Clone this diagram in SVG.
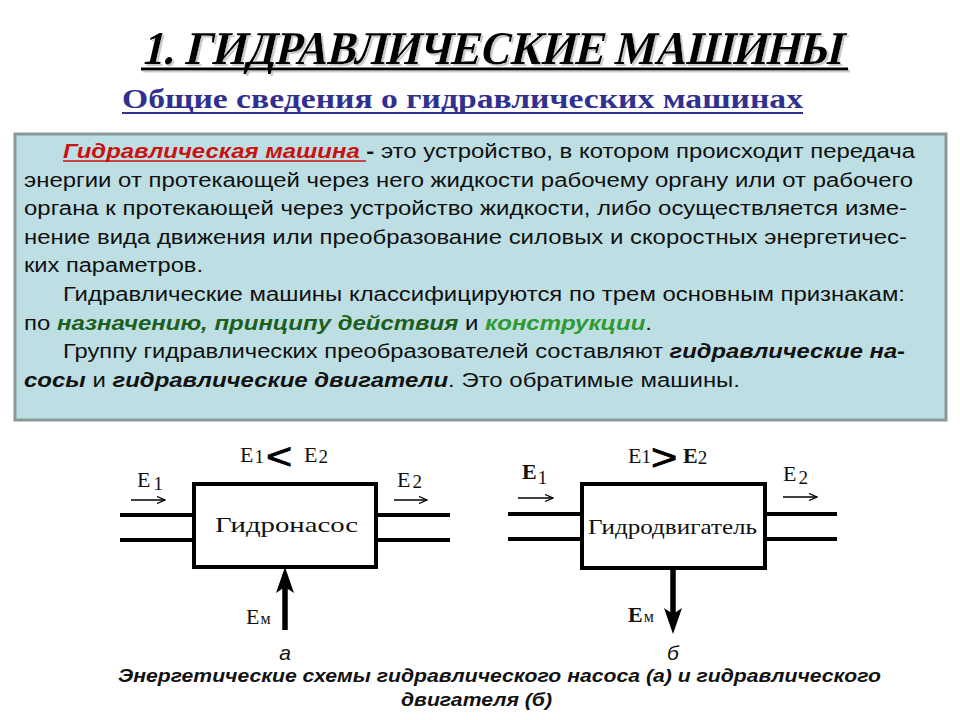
<svg xmlns="http://www.w3.org/2000/svg" width="960" height="720" viewBox="0 0 960 720">
<defs>
<style>
.serif{font-family:"Liberation Serif","Times New Roman",serif;}
.sans{font-family:"Liberation Sans",Arial,sans-serif;}
.body{font-family:"Liberation Sans",Arial,sans-serif;font-size:20px;fill:#111;}
.bi{font-weight:bold;font-style:italic;}
.lbl{font-family:"Liberation Serif","Times New Roman",serif;font-size:22px;fill:#111;}
.sub{font-size:19px;}
.pipe{stroke:#000;stroke-width:4;fill:none;}
.thin{stroke:#000;stroke-width:1.3;fill:none;}
.box{fill:#fff;stroke:#000;stroke-width:4;}
</style>
<filter id="shadow" x="-5%" y="-20%" width="110%" height="150%">
<feOffset in="SourceAlpha" dx="2" dy="2" result="o"/>
<feColorMatrix in="o" type="matrix" values="0 0 0 0 0.6  0 0 0 0 0.6  0 0 0 0 0.6  0 0 0 1 0" result="g"/>
<feMerge><feMergeNode in="g"/><feMergeNode in="SourceGraphic"/></feMerge>
</filter>
<marker id="chev" viewBox="0 0 10 8" refX="9" refY="4" markerWidth="10" markerHeight="8" markerUnits="userSpaceOnUse" orient="auto">
<path d="M1,0.5 L9,4 L1,7.5" fill="none" stroke="#000" stroke-width="1.3"/>
</marker>
</defs>
<rect width="960" height="720" fill="#fff"/>

<g id="title" filter="url(#shadow)">
<text x="141" y="64" class="serif" font-weight="bold" font-size="47" fill="#000" textLength="700" lengthAdjust="spacingAndGlyphs" transform="translate(0 64) skewX(-13) translate(0 -64)">1. ГИДРАВЛИЧЕСКИЕ МАШИНЫ</text>
<line x1="141" y1="69" x2="848" y2="69" stroke="#000" stroke-width="3"/>
</g>

<g id="subtitle">
<text x="122" y="108" class="serif" font-weight="bold" font-size="27" fill="#303090" textLength="681" lengthAdjust="spacingAndGlyphs">Общие сведения о гидравлических машинах</text>
<line x1="122" y1="113" x2="803" y2="113" stroke="#303090" stroke-width="2"/>
</g>

<g id="textbox">
<rect x="15" y="134" width="931" height="286" fill="#bddfe4" stroke="#8a9898" stroke-width="3"/>
<text class="body" x="63" y="158" textLength="852" lengthAdjust="spacingAndGlyphs"><tspan class="bi" fill="#cc1111">Гидравлическая машина </tspan><tspan font-weight="bold">-</tspan> это устройство, в котором происходит передача</text>
<line x1="63" y1="161" x2="366" y2="161" stroke="#cc1111" stroke-width="1.5"/>
<text class="body" x="24" y="186.6" textLength="889" lengthAdjust="spacingAndGlyphs">энергии от протекающей через него жидкости рабочему органу или от рабочего</text>
<text class="body" x="24" y="215.2" textLength="883" lengthAdjust="spacingAndGlyphs">органа к протекающей через устройство жидкости, либо осуществляется изме-</text>
<text class="body" x="24" y="243.8" textLength="883" lengthAdjust="spacingAndGlyphs">нение вида движения или преобразование силовых и скоростных энергетичес-</text>
<text class="body" x="24" y="272.4" textLength="179" lengthAdjust="spacingAndGlyphs">ких параметров.</text>
<text class="body" x="63" y="301" textLength="842" lengthAdjust="spacingAndGlyphs">Гидравлические машины классифицируются по трем основным признакам:</text>
<text class="body" x="24" y="329.6" textLength="628" lengthAdjust="spacingAndGlyphs">по <tspan class="bi" fill="#1d5e1d">назначению, принципу действия</tspan> и <tspan class="bi" fill="#2f9a2f">конструкции</tspan>.</text>
<text class="body" x="63" y="358.2" textLength="842" lengthAdjust="spacingAndGlyphs">Группу гидравлических преобразователей составляют <tspan class="bi">гидравлические на-</tspan></text>
<text class="body" x="24" y="386.8" textLength="716" lengthAdjust="spacingAndGlyphs"><tspan class="bi">сосы</tspan> и <tspan class="bi">гидравлические двигатели</tspan>. Это обратимые машины.</text>
</g>

<g id="connectors">
<line class="pipe" x1="120" y1="515" x2="194" y2="515"/>
<line class="pipe" x1="120" y1="540" x2="194" y2="540"/>
<line class="pipe" x1="376" y1="515" x2="450" y2="515"/>
<line class="pipe" x1="376" y1="540" x2="450" y2="540"/>
<line class="thin" x1="131" y1="500" x2="165" y2="500" marker-end="url(#chev)"/>
<line class="thin" x1="394" y1="500" x2="427" y2="500" marker-end="url(#chev)"/>
<line x1="285" y1="630" x2="285" y2="585" stroke="#000" stroke-width="5.5"/>
<polygon points="285,567 294,593 285,587 276,593" fill="#000"/>

<line class="pipe" x1="508" y1="514" x2="582" y2="514"/>
<line class="pipe" x1="508" y1="539" x2="582" y2="539"/>
<line class="pipe" x1="765" y1="514" x2="837" y2="514"/>
<line class="pipe" x1="765" y1="539" x2="837" y2="539"/>
<line class="thin" x1="518" y1="498" x2="553" y2="498" marker-end="url(#chev)"/>
<line class="thin" x1="783" y1="497" x2="817" y2="497" marker-end="url(#chev)"/>
<line x1="673" y1="568" x2="673" y2="615" stroke="#000" stroke-width="5.5"/>
<polygon points="673,634 682,608 673,614 664,608" fill="#000"/>
</g>

<g id="pump">
<rect class="box" x="194" y="484" width="182" height="83"/>
<text class="lbl" x="215" y="532" font-size="24" textLength="143" lengthAdjust="spacingAndGlyphs">Гидронасос</text>
<text class="lbl" x="240" y="462">E<tspan class="sub" dx="1" dy="1">1</tspan></text>
<text class="sans" x="266" y="469" font-size="36" fill="#000" stroke="#000" stroke-width="0.8" transform="translate(266 0) scale(1.25 1) translate(-266 0)">&lt;</text>
<text class="lbl" x="304" y="462">E<tspan class="sub" dx="1" dy="1">2</tspan></text>
<text class="lbl" x="137" y="487">E<tspan class="sub" dx="3" dy="3">1</tspan></text>
<text class="lbl" x="397" y="487">E<tspan class="sub" dx="2" dy="1">2</tspan></text>
<text class="lbl" x="246" y="624">E<tspan font-size="16" dx="1">м</tspan></text>
<text class="sans" x="285" y="660" font-size="21" font-style="italic" text-anchor="middle" fill="#111">а</text>
</g>

<g id="motor">
<rect class="box" x="582" y="484" width="183" height="84"/>
<text class="lbl" x="588" y="534" font-size="24" textLength="169" lengthAdjust="spacingAndGlyphs">Гидродвигатель</text>
<text class="lbl" x="628" y="463">E<tspan class="sub" dy="0">1</tspan></text>
<text class="sans" x="651" y="470" font-size="36" fill="#000" stroke="#000" stroke-width="0.8" transform="translate(651 0) scale(1.25 1) translate(-651 0)">&gt;</text>
<text class="lbl" x="683" y="463" font-weight="bold">E<tspan class="sub" font-weight="normal" dy="1">2</tspan></text>
<text class="lbl" x="522" y="479" font-weight="bold">E<tspan class="sub" font-weight="normal" dx="1" dy="5">1</tspan></text>
<text class="lbl" x="783" y="481">E<tspan class="sub" dx="2" dy="3">2</tspan></text>
<text class="lbl" x="628" y="622" font-weight="bold">E<tspan font-size="16" font-weight="normal" dx="1">м</tspan></text>
<text class="sans" x="673" y="660" font-size="21" font-style="italic" text-anchor="middle" fill="#111">б</text>
</g>

<g id="caption">
<text class="sans bi" x="118" y="682" font-size="18.5" fill="#111" textLength="763" lengthAdjust="spacingAndGlyphs">Энергетические схемы гидравлического насоса (а) и гидравлического</text>
<text class="sans bi" x="401" y="706" font-size="18.5" fill="#111" textLength="151" lengthAdjust="spacingAndGlyphs">двигателя (б)</text>
</g>
</svg>
